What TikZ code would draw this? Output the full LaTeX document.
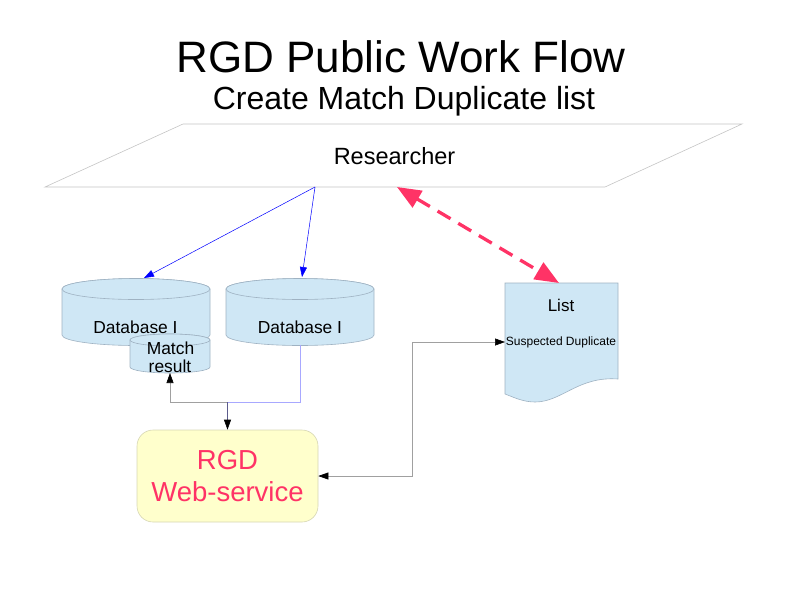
\documentclass[tikz,border=0pt]{standalone}
\usepackage{fontspec}
\setmainfont{Liberation Sans}
\usetikzlibrary{arrows.meta}
\definecolor{dbblue}{HTML}{CFE7F5}
\definecolor{dbedge}{HTML}{9FB2C2}
\definecolor{wsyellow}{HTML}{FFFFCC}
\definecolor{wsedge}{HTML}{D6D6B4}
\definecolor{hotpink}{HTML}{FF3366}
\definecolor{lavender}{HTML}{A8A8FF}
\definecolor{linegray}{HTML}{A0A0A0}
\definecolor{paragray}{HTML}{C4C4C4}

\begin{document}
\begin{tikzpicture}[x=1pt, y=-1pt,
    lbl/.style={anchor=base, inner sep=0pt},
    dbshape/.style={fill=dbblue, draw=dbedge, line width=0.6pt},
    dbtext/.style={lbl, font=\fontsize{17.4}{20}\selectfont},
    wsbox/.style={fill=wsyellow, draw=wsedge, line width=0.6pt, rounded corners=16pt,
        minimum width=181pt, minimum height=92pt, align=center, text=hotpink,
        font=\fontsize{27.5}{32}\selectfont},
    smalltip/.style={-{Triangle[length=10pt, width=7pt, color=black]}},
    bluearrow/.style={blue, line width=0.5pt, -{Triangle[length=10pt, width=7pt]}},
    redarrow/.style={hotpink, line width=3.3pt, dash pattern=on 15pt off 9pt,
        {Triangle[length=24pt, width=19pt]}-{Triangle[length=24pt, width=19pt]}}]
    \useasboundingbox (0,0) rectangle (794,595);
    \node[lbl, font=\fontsize{44}{50}\selectfont] (title) at (401,72) {RGD Public Work Flow};
    \node[lbl, font=\fontsize{32}{38}\selectfont] (subtitle) at (404,109) {Create Match Duplicate list};
    % researcher
    \draw[paragray, line width=0.6pt] (45,187) -- (183,124) -- (742,124) -- (605,187) -- cycle;
    \node[lbl, font=\fontsize{23.5}{27}\selectfont] (res) at (394.5,164) {Researcher};
    \coordinate (resL) at (315,187);
    \coordinate (resR) at (397,187);
    % databases
    \filldraw[dbshape] (62,289) -- (62,335) arc[start angle=180, end angle=360, x radius=74pt, y radius=10.5pt]
        -- (210,289) arc[start angle=0, end angle=180, x radius=74pt, y radius=10.5pt] -- cycle;
    \draw[dbshape] (136,289) ellipse [x radius=74pt, y radius=10.5pt];
    \filldraw[dbshape] (226,289) -- (226,335) arc[start angle=180, end angle=360, x radius=74pt, y radius=10.5pt]
        -- (374,289) arc[start angle=0, end angle=180, x radius=74pt, y radius=10.5pt] -- cycle;
    \draw[dbshape] (300,289) ellipse [x radius=74pt, y radius=10.5pt];
    \node[dbtext] (dbA) at (135.5,333) {Database I};
    \node[dbtext] (dbB) at (300,333) {Database I};
    \coordinate (dbAtop) at (144,278);
    \coordinate (dbBtop) at (302,277);
    \coordinate (dbBbot) at (300,345);
    % match result
    \filldraw[dbshape] (130,340) -- (130,367) arc[start angle=180, end angle=360, x radius=40pt, y radius=6pt]
        -- (210,340) arc[start angle=0, end angle=180, x radius=40pt, y radius=6pt] -- cycle;
    \draw[dbshape] (170,340) ellipse [x radius=40pt, y radius=6pt];
    \node[dbtext] (match) at (170.5,354) {Match};
    \node[dbtext] (result) at (170,372) {result};
    \coordinate (mrbot) at (170,373);
    % list
    \filldraw[dbshape] (505,283) -- (618,283) -- (618,379) .. controls (578,376) and (562,402) .. (535,402)
        .. controls (523,402) and (513,397) .. (505,394) -- cycle;
    \node[lbl, font=\fontsize{17}{20}\selectfont] (list) at (561,311) {List};
    \node[lbl, font=\fontsize{12}{14}\selectfont] (dup) at (561,345) {Suspected Duplicate};
    \coordinate (listT) at (559,283);
    \coordinate (listL) at (505,342);
    % web service
    \node[wsbox] (ws) at (227.5,476) {RGD\\Web-service};
    \coordinate (junc) at (227.5,402);
    % connectors
    \draw[bluearrow] (resL) -- (dbAtop);
    \draw[bluearrow] (resL) -- (dbBtop);
    \draw[redarrow] (resR) -- (listT);
    \draw[lavender, line width=0.6pt] (dbBbot) |- (junc);
    \draw[linegray, line width=0.6pt, smalltip] (junc) -| (mrbot);
    \draw[black!45!lavender, line width=0.6pt, smalltip] (junc) -- (ws.north);
    \draw[linegray, line width=0.6pt, {Triangle[length=10pt, width=7pt, color=black]}-{Triangle[length=10pt, width=7pt, color=black]}]
        (ws.east) -- ++(94,0) |- (listL);
\end{tikzpicture}
\end{document}
